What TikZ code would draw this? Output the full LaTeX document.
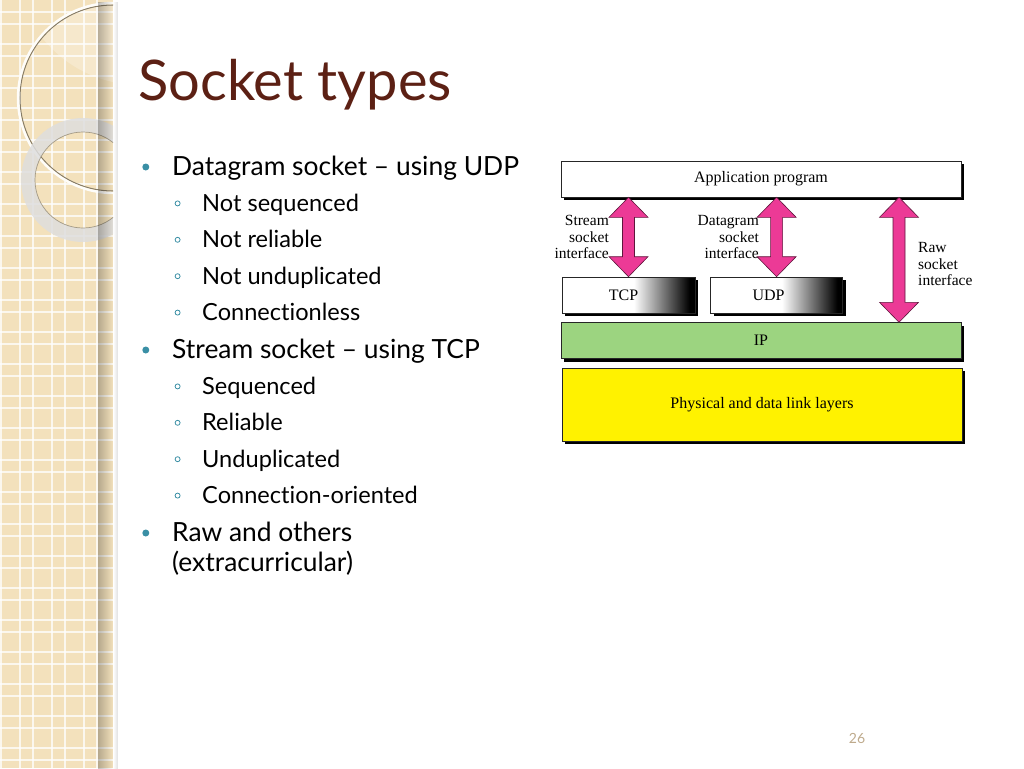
\documentclass[tikz,border=0pt]{standalone}
\usepackage{fontspec}
\setmainfont{Lato}[Ligatures=CommonOff]
\newfontfamily\diafont{Liberation Serif}
\usetikzlibrary{positioning,calc,shadows,fadings}

\definecolor{stripbeige}{RGB}{243,225,188}
\definecolor{titlebrown}{RGB}{92,32,20}
\definecolor{bullteal}{RGB}{58,143,165}
\definecolor{ipgreen}{RGB}{156,212,128}
\definecolor{sockpink}{RGB}{236,58,150}
\definecolor{pagegray}{RGB}{190,170,140}

\pgfdeclarehorizontalshading{tcpfade}{100bp}{color(0bp)=(white); color(52bp)=(white); color(73bp)=(black); color(100bp)=(black)}

% fat double arrow between two points on the same vertical
\newcommand{\fatarrow}[2]{%
  \filldraw[sockarrow] let \p1=(#1), \p2=(#2) in
    (\x1,\y1) -- ++(19.5pt,-20pt) -- ++(-13.5pt,0pt) -- (\x1+6pt,\y2+20pt) -- ++(13.5pt,0pt)
    -- (\x1,\y2) -- ++(-19.5pt,20pt) -- ++(13.5pt,0pt) -- (\x1-6pt,\y1-20pt) -- ++(-13.5pt,0pt) -- cycle;}

\begin{document}
\begin{tikzpicture}[x=1pt,y=-1pt,
  gridline/.style={white,line width=1.5pt,opacity=.75},
  item/.style={inner sep=0pt,text height=20pt,text depth=6pt,anchor=north west},
  dotone/.style={circle,fill=bullteal,inner sep=0pt,minimum size=7pt,xshift=-22.5pt,yshift=1pt},
  ringtwo/.style={circle,draw=bullteal,line width=.8pt,inner sep=0pt,minimum size=5pt,xshift=-21.5pt,yshift=1pt},
  lvone/.style={item,font=\fontsize{26.4}{30}\selectfont,label={[dotone]west:}},
  lvtwo/.style={item,font=\fontsize{23.6}{28}\selectfont,label={[ringtwo]west:}},
  layerbox/.style={draw=black!85,line width=.6pt,inner sep=0pt,minimum height=36pt,
    font=\diafont\fontsize{16}{18}\selectfont,
    drop shadow={fill=black,opacity=1,shadow xshift=3pt,shadow yshift=-3pt}},
  ifacelabel/.style={inner sep=0pt,font=\diafont\fontsize{15.5}{16.5}\selectfont},
  sockarrow/.style={fill=sockpink,draw=black!60!sockpink,line width=.6pt,line join=miter}]

\useasboundingbox (0,0) rectangle (1024,768);

% left strip
\fill[stripbeige] (0,0) rectangle (113,768);
\foreach \gx in {1,33,65,97} \draw[gridline] (\gx,0) -- (\gx,768);
\foreach \gx in {20,52,84} \draw[gridline] (\gx,0) -- (\gx,768);
\foreach \gy in {12,44,...,760} \draw[gridline] (0,\gy) -- (113,\gy);
\foreach \gy in {24,56,...,760} \draw[gridline] (0,\gy) -- (113,\gy);
\begin{scope}
  \clip (0,0) rectangle (113,768);
  \begin{scope}
    \clip (113,98) circle[radius=95pt];
    \fill[white,opacity=.25] (140,-40) circle[radius=125pt];
  \end{scope}
  \draw[line width=1pt,black!45!stripbeige] (113,98) circle[radius=93pt];
  \draw[line width=2.4pt,white!92!stripbeige] (113,98) circle[radius=95pt];
  \draw[line width=14pt,black!13,opacity=.85] (83,180) circle[radius=55pt];
  \draw[line width=.7pt,black!45!stripbeige,opacity=.7] (83,180) circle[radius=48pt];
\end{scope}
\fill[black,path fading=east,opacity=.25] (98,0) rectangle (113,768);
\fill[black,path fading=west,opacity=.12] (113,0) rectangle (118,768);

% title
\node[anchor=base west,inner sep=0pt,text=titlebrown,font=\fontsize{56}{62}\selectfont] (title) at (138,100) {Socket types};

% bullet list
\node[lvone,anchor=base west] (dgram) at (172,175) {Datagram socket -- using UDP};
\node[lvtwo] (nseq) [below=10pt of dgram.south west,anchor=north west,xshift=30pt] {Not sequenced};
\node[lvtwo] (nrel) [below=10pt of nseq.south west,anchor=north west] {Not reliable};
\node[lvtwo] (ndup) [below=10pt of nrel.south west,anchor=north west] {Not unduplicated};
\node[lvtwo] (cless) [below=10pt of ndup.south west,anchor=north west] {Connectionless};
\node[lvone] (strm) [below=11pt of cless.south west,anchor=north west,xshift=-30pt] {Stream socket -- using TCP};
\node[lvtwo] (seq) [below=10pt of strm.south west,anchor=north west,xshift=30pt] {Sequenced};
\node[lvtwo] (rel) [below=10pt of seq.south west,anchor=north west] {Reliable};
\node[lvtwo] (udup) [below=10pt of rel.south west,anchor=north west] {Unduplicated};
\node[lvtwo] (coor) [below=10pt of udup.south west,anchor=north west] {Connection-oriented};
\node[lvone] (raw) [below=11pt of coor.south west,anchor=north west,xshift=-30pt] {Raw and others};
\node[item,font=\fontsize{26.4}{30}\selectfont] (extra) [below=4pt of raw.south west,anchor=north west] {(extracurricular)};

% layers
\node[layerbox,fill=white,minimum width=400pt] (app) at (761,179) {Application program};
\node[layerbox,shading=tcpfade,minimum width=133pt] (tcp) at (628.5,295) {TCP\hspace*{10pt}};
\node[layerbox,shading=tcpfade,minimum width=132pt] (udp) [right=15pt of tcp] {UDP\hspace*{16pt}};
\node[layerbox,fill=ipgreen,minimum width=400pt] (ip) [below=125pt of app] {IP};
\node[layerbox,fill=yellow,minimum width=400pt,minimum height=73pt] (phys) [below=9pt of ip.south,anchor=north,xshift=1pt] {Physical and data link layers};
\coordinate (rawx) at (899,0);

% socket interfaces
\fatarrow{app.south -| tcp.north}{tcp.north}
\fatarrow{app.south -| udp.north}{udp.north}
\fatarrow{app.south -| rawx}{ip.north -| rawx}
\node[ifacelabel,anchor=east,align=right] (strlab) at (609,237) {Stream\\socket\\interface};
\node[ifacelabel,anchor=east,align=right] (dgrlab) at (759,237) {Datagram\\socket\\interface};
\node[ifacelabel,anchor=west,align=left] (rawlab) at (918,264) {Raw\\socket\\interface};

% page number
\node[anchor=base,inner sep=0pt,text=pagegray,font=\fontsize{14}{16}\selectfont] (pgnum) at (857,743) {26};
\end{tikzpicture}
\end{document}
